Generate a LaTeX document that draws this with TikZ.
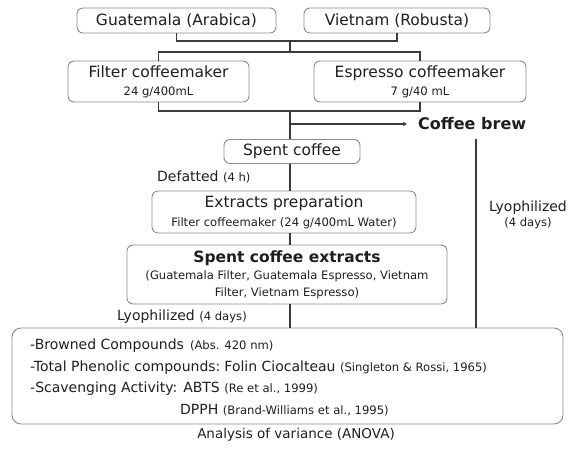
\documentclass[tikz,border=0pt]{standalone}
\usepackage{fontspec}
\setmainfont{DejaVu Sans}
\usetikzlibrary{arrows.meta}
\definecolor{txt}{HTML}{1E1E1E}
\definecolor{boxc}{HTML}{8A8A8A}
\definecolor{linec}{HTML}{3A3A3A}
\newcommand\smtxt[1]{{\fontsize{11.6}{13}\selectfont #1}}
\newcommand\lblfont{\fontsize{14}{16}\selectfont}
\tikzset{
  box/.style={draw=boxc, line width=0.9pt, rounded corners=6pt, inner sep=0pt, align=center, text=txt},
  lbl/.style={inner sep=0pt, text=txt, align=left, font=\lblfont},
  conn/.style={draw=linec, line width=1.3pt},
}
\begin{document}
\begin{tikzpicture}[x=1pt,y=-1pt, font=\fontsize{15.5}{18}\selectfont]
\useasboundingbox (0,0) rectangle (579,448);
% top boxes
\node[box, minimum width=199pt, minimum height=25pt] (g) at (176.5,20.5) {Guatemala (Arabica)};
\node[box, minimum width=186pt, minimum height=25pt] (v) at (397,20.5) {Vietnam (Robusta)};
\node[box, minimum width=181pt, minimum height=41pt] (f) at (158.5,81.5) {Filter coffeemaker\\[0pt]\smtxt{24 g/400mL}};
\node[box, minimum width=212pt, minimum height=41pt] (e) at (420,81.5) {Espresso coffeemaker\\[0pt]\smtxt{7 g/40 mL}};
\node[box, minimum width=136pt, minimum height=24pt] (sc) at (292,151.5) {Spent coffee};
\node[box, minimum width=264pt, minimum height=42pt] (ep) at (284,212) {Extracts preparation\\[1pt]\smtxt{Filter coffeemaker (24 g/400mL Water)}};
\node[box, minimum width=320pt, minimum height=59pt] (sce) at (287,274.5) {\textbf{Spent coffee extracts}\\[-1pt]\smtxt{(Guatemala Filter, Guatemala Espresso, Vietnam}\\[-1pt]\smtxt{Filter, Vietnam Espresso)}};
\node[box, rounded corners=9pt, minimum width=551pt, minimum height=96pt] (an) at (287.5,376) {};
% bottom box texts
\node[lbl, anchor=west] (b1) at (30,346) {-Browned Compounds\hspace{6pt}\smtxt{(Abs. 420 nm)}};
\node[lbl, anchor=west] (b2) at (30,367.5) {-Total Phenolic compounds:\hspace{4pt}Folin Ciocalteau \smtxt{(Singleton \& Rossi, 1965)}};
\node[lbl, anchor=west] (b3) at (30,389) {-Scavenging Activity:\hspace{6pt}ABTS \smtxt{(Re et al., 1999)}};
\node[lbl, anchor=west] (b4) at (180,410.5) {DPPH \smtxt{(Brand-Williams et al., 1995)}};
\node[lbl, font=\fontsize{13.5}{16}\selectfont] (anova) at (296,435) {Analysis of variance (ANOVA)};
% labels
\node[lbl, anchor=west, font=\fontsize{16}{18}\selectfont] (cb) at (418,124) {\textbf{Coffee brew}};
\node[lbl, anchor=west] (def) at (157,177) {Defatted \smtxt{(4 h)}};
\node[lbl, anchor=west] (ly1) at (117,317) {Lyophilized \smtxt{(4 days)}};
\node[lbl, align=center] (ly2) at (528,215) {Lyophilized\\[-1pt]\smtxt{(4 days)}};
% junctions
\coordinate (j1) at (290,41);
\coordinate (j2) at (290,52);
\coordinate (j3) at (290,111);
\coordinate (j4) at (290,124);
\coordinate (cbt) at (476,139);
% connectors
\draw[conn] (g.south) |- (j1) -| (v.south);
\draw[conn] (j1) -- (j2);
\draw[conn] (f.north) |- (j2) -| (e.north);
\draw[conn] (f.south) |- (j3) -| (e.south);
\draw[conn] (j3) -- (j3 |- sc.north);
\draw[conn, -{Stealth[length=4pt,width=4pt]}, shorten >=11pt] (j4) -- (cb.west);
\draw[conn] (sc.south -| j3) -- (ep.north -| j3);
\draw[conn] (ep.south -| j3) -- (sce.north -| j3);
\draw[conn] (sce.south -| j3) -- (an.north -| j3);
\draw[conn] (cbt) -- (an.north -| cbt);
\end{tikzpicture}
\end{document}
